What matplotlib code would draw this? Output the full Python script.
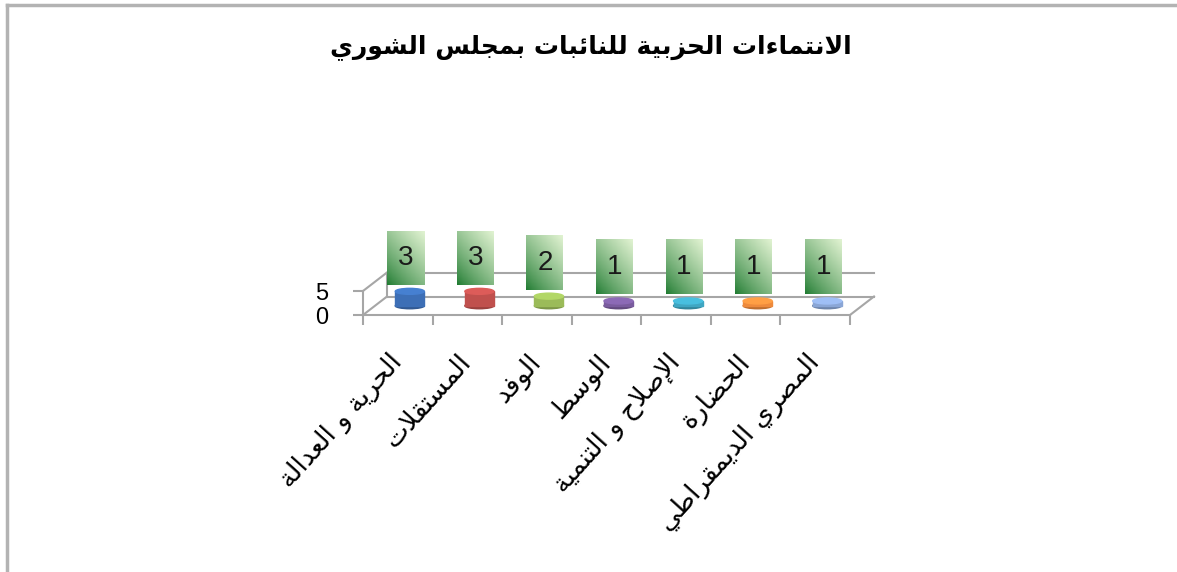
import matplotlib
matplotlib.use("Agg")
import matplotlib.pyplot as plt
import numpy as np
from matplotlib.patches import Ellipse, Rectangle
from matplotlib.lines import Line2D

# chart data
title = "الانتماءات الحزبية للنائبات بمجلس الشوري"
parties = ["الحرية و العدالة", "المستقلات", "الوفد", "الوسط",
           "الإصلاح و التنمية", "الحضارة", "المصري الديمقراطي"]
seats = [3, 3, 2, 1, 1, 1, 1]
bar_colors = ["#3d6fb6", "#c0504d", "#9bbb59", "#7a5c9e",
              "#3fa6c2", "#ee8a3c", "#8aa6d6"]
y_ticks = [0, 5]

# matplotlib has no arabic shaping, so pick the presentation forms by hand
# letter -> (first code point of its forms, number of forms)
FORMS = {
    "ء": (0xFE80, 1), "آ": (0xFE81, 2), "أ": (0xFE83, 2), "ؤ": (0xFE85, 2),
    "إ": (0xFE87, 2), "ئ": (0xFE89, 4), "ا": (0xFE8D, 2), "ب": (0xFE8F, 4),
    "ة": (0xFE93, 2), "ت": (0xFE95, 4), "ث": (0xFE99, 4), "ج": (0xFE9D, 4),
    "ح": (0xFEA1, 4), "خ": (0xFEA5, 4), "د": (0xFEA9, 2), "ذ": (0xFEAB, 2),
    "ر": (0xFEAD, 2), "ز": (0xFEAF, 2), "س": (0xFEB1, 4), "ش": (0xFEB5, 4),
    "ص": (0xFEB9, 4), "ض": (0xFEBD, 4), "ط": (0xFEC1, 4), "ظ": (0xFEC5, 4),
    "ع": (0xFEC9, 4), "غ": (0xFECD, 4), "ف": (0xFED1, 4), "ق": (0xFED5, 4),
    "ك": (0xFED9, 4), "ل": (0xFEDD, 4), "م": (0xFEE1, 4), "ن": (0xFEE5, 4),
    "ه": (0xFEE9, 4), "و": (0xFEED, 2), "ى": (0xFEEF, 2), "ي": (0xFEF1, 4),
}
LAM_ALEF = {"آ": 0xFEF5, "أ": 0xFEF7, "إ": 0xFEF9, "ا": 0xFEFB}


def dual(c):
    return c in FORMS and FORMS[c][1] == 4


def shape(text):
    out = []
    n = len(text)
    i = 0
    while i < n:
        c = text[i]
        prev = text[i - 1] if i > 0 else ""
        nxt = text[i + 1] if i + 1 < n else ""
        if c == "ل" and nxt in LAM_ALEF:
            out.append(chr(LAM_ALEF[nxt] + (1 if dual(prev) else 0)))
            i += 2
            continue
        if c not in FORMS:
            out.append(c)
            i += 1
            continue
        base, nf = FORMS[c]
        p = nf > 1 and dual(prev)
        q = nf == 4 and nxt in FORMS and FORMS[nxt][1] > 1
        if p and q:
            k = 3
        elif p:
            k = 1
        elif q:
            k = 2
        else:
            k = 0
        out.append(chr(base + k))
        i += 1
    return "".join(out[::-1])


W, H = 1177, 572
fig = plt.figure(figsize=(W / 100, H / 100), dpi=100)
fig.patch.set_facecolor("white")

# grey frame on top and left of the picture
fig.add_artist(Line2D([7 / W, 1], [1 - 5 / H, 1 - 5 / H], transform=fig.transFigure,
                      color="#b3b3b3", lw=2.5))
fig.add_artist(Line2D([7 / W, 7 / W], [0, 1 - 5 / H], transform=fig.transFigure,
                      color="#b3b3b3", lw=2.5))

fig.text(0.502, 1 - 47 / H, shape(title), ha="center", va="center",
         fontsize=18, fontweight="bold", family="DejaVu Sans")

# the front face of the (very flat) 3d plot area
ax = fig.add_axes([363 / W, 1 - 315 / H, 487 / W, 24 / H])
ax.set_facecolor("none")
n = len(seats)
ax.set_xlim(0, n)
ax.set_ylim(0, y_ticks[-1])
ux = 487 / n            # pixels per category
uy = 24 / y_ticks[-1]   # pixels per seat
dx, dy = 24 / ux, 18.5 / uy   # depth of the 3d box in data units

grey = "#a6a6a6"
for s in ["top", "right"]:
    ax.spines[s].set_visible(False)
for s in ["left", "bottom"]:
    ax.spines[s].set_color(grey)
    ax.spines[s].set_linewidth(1.5)

ymax = y_ticks[-1]
frame = [
    ([dx, n + dx], [ymax + dy, ymax + dy]),
    ([dx, n + dx], [dy, dy]),
    ([0, dx], [ymax, ymax + dy]),
    ([0, dx], [0, dy]),
    ([n, n + dx], [0, dy]),
    ([dx, dx], [dy, ymax + dy]),
]
for fx, fy in frame:
    ax.plot(fx, fy, color=grey, lw=1.5, clip_on=False, zorder=1)

x = np.arange(n) + 0.5
bw = 29 / ux
eh = 6 / uy
y0 = dy / 2

# light-to-dark green gradient for the value boxes
gy, gx = np.mgrid[0:1:40j, 0:1:30j]
t = np.clip((gx * 0.7 + gy * 0.9) / 1.6, 0, 1) ** 0.8
dark = np.array([0.12, 0.48, 0.19])
light = np.array([0.88, 0.95, 0.82])
grad = dark + (light - dark) * t[..., None]

for i, v in enumerate(seats):
    xc = x[i] + dx / 2
    col = np.array(matplotlib.colors.to_rgb(bar_colors[i]))
    ax.add_patch(Ellipse((xc, y0), bw, eh, color=col * 0.8, clip_on=False, zorder=2))
    ax.add_patch(Rectangle((xc - bw / 2, y0), bw, v, color=col, clip_on=False, zorder=2))
    ax.add_patch(Ellipse((xc, y0 + v), bw, eh, color=np.minimum(col * 1.15, 1),
                         clip_on=False, zorder=2))

    bx = xc - 4 / ux
    bwid = 37 / ux
    by = y0 + v + 6.6 / uy
    bh = 54 / uy
    im = ax.imshow(grad, extent=[bx - bwid / 2, bx + bwid / 2, by, by + bh],
                   origin="lower", aspect="auto", zorder=3)
    im.set_clip_on(False)
    ax.text(bx, by + bh / 2, str(v), ha="center", va="center", fontsize=20,
            family="Liberation Sans", color="#1a1a1a", zorder=4)

ax.set_xlim(0, n)
ax.set_ylim(0, ymax)

ax.set_xticks(np.arange(n + 1))
ax.set_xticks(x, [shape(p) for p in parties], minor=True)
ax.tick_params(axis="x", which="major", length=7.2, width=1.5, color=grey,
               labelbottom=False)
ax.tick_params(axis="x", which="minor", length=0, pad=31)
for lab in ax.get_xticklabels(minor=True):
    lab.set(rotation=48, ha="right", va="center", rotation_mode="anchor",
            fontsize=19, family="DejaVu Sans")

ax.set_yticks(y_ticks)
ax.tick_params(axis="y", length=7.2, width=1.5, color=grey, pad=18, labelsize=17)
for lab in ax.get_yticklabels():
    lab.set_family("Liberation Sans")

fig.savefig("out.png", dpi=100)
